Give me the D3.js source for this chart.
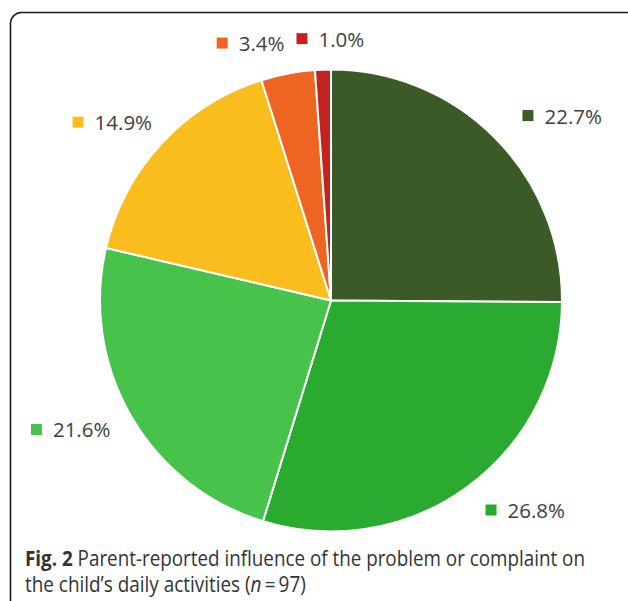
<!DOCTYPE html>
<html><head><meta charset="utf-8">
<script src="https://cdn.jsdelivr.net/npm/d3@7"></script>
<style>html,body{margin:0;padding:0;background:#fff;}svg{display:block;}</style>
</head><body>
<svg id="chart" width="628" height="601"></svg>
<script>
// Data
const categories = ["A", "B", "C", "D", "E", "F"];
const values = [22.7, 26.8, 21.6, 14.9, 3.4, 1.0];
const labels = ["22.7%", "26.8%", "21.6%", "14.9%", "3.4%", "1.0%"];
const colors = ["#3b5a27", "#2aab2f", "#47c24a", "#f9bd1e", "#ee6422", "#c3221e"];
const captionBold = "Fig. 2";
const captionLine1 = " Parent-reported influence of the problem or complaint on";
const captionLine2 = "the child\u2019s daily activities (";
const captionItalic = "n";
const captionEnd = "\u2009=\u200997)";

const svg = d3.select("#chart");
const cx = 331, cy = 300.5, R = 231;

// frame
svg.append("rect").attr("x", 10.5).attr("y", 12.5).attr("width", 630).attr("height", 620)
  .attr("rx", 11).attr("fill", "none").attr("stroke", "#1a1a1a").attr("stroke-width", 1.6);

const pie = d3.pie().sort(null).value(d => d.v);
const data = pie(categories.map((c, i) => ({c, v: values[i], label: labels[i], color: colors[i]})));
const arc = d3.arc().innerRadius(0).outerRadius(R);
const g = svg.append("g").attr("transform", `translate(${cx},${cy})`);
g.selectAll("path").data(data).join("path")
  .attr("d", arc).attr("fill", d => d.data.color)
  .attr("stroke", "#fff").attr("stroke-width", 2).attr("stroke-linejoin", "round");

// labels
const fontSize = 20.5, sq = 11, gap = 11;
const lg = g.append("g");
const boxes = data.map(d => {
  const t = lg.append("text").attr("font-family", "Open Sans").attr("font-size", fontSize)
    .attr("fill", "#404040").text(d.data.label);
  const tw = t.node().getComputedTextLength();
  const w = sq + gap + tw, h = 22;
  const a = (d.startAngle + d.endAngle) / 2;
  const ux = Math.sin(a), uy = -Math.cos(a);
  const bx = ux * (272 + w / 2) + 10, by = uy * 250 + uy * h / 2;
  return {d, t, tw, w, h, x: bx, y: by};
});
// simple collision avoidance (push left-side labels further left)
for (let i = boxes.length - 1; i > 0; i--) {
  const b = boxes[i], p = boxes[i - 1];
  if (Math.abs(b.y - p.y) < b.h && (p.x + p.w / 2) > (b.x - b.w / 2 - 12) && p.x < b.x) {
    p.x = b.x - b.w / 2 - 12 - p.w / 2;
  }
}
boxes.forEach(b => {
  const left = b.x - b.w / 2;
  lg.append("rect").attr("x", left).attr("y", b.y - sq / 2 - 1).attr("width", sq).attr("height", sq)
    .attr("fill", b.d.data.color);
  b.t.attr("x", left + sq + gap).attr("y", b.y + 7);
});

// caption (scaled horizontally to fit the reference line widths)
function caption(y, target, parts) {
  const t = svg.append("text").attr("x", 0).attr("y", 0).attr("font-family", "Open Sans")
    .attr("font-size", 21).attr("fill", "#333");
  parts.forEach(p => {
    const s = t.append("tspan").text(p.text);
    if (p.bold) s.attr("font-weight", "bold");
    if (p.italic) s.attr("font-style", "italic");
  });
  const w = t.node().getComputedTextLength();
  t.attr("transform", `translate(25,${y}) scale(${target / w},1)`);
}
caption(566, 560, [{text: captionBold, bold: true}, {text: captionLine1}]);
caption(592, 281, [{text: captionLine2}, {text: captionItalic, italic: true}, {text: captionEnd}]);
</script>
</body></html>
